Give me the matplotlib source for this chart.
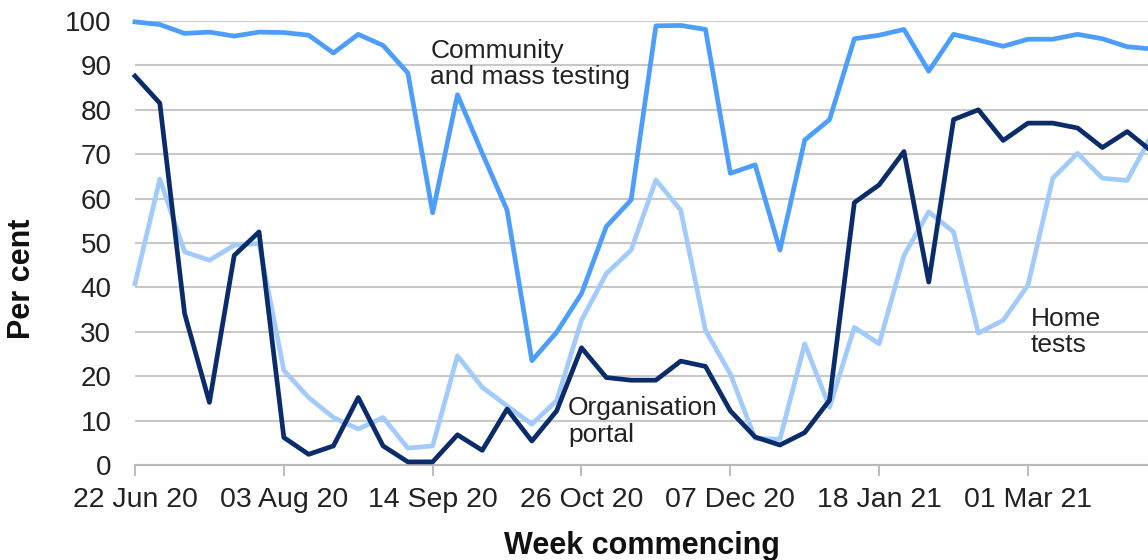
import matplotlib
matplotlib.use("Agg")
import matplotlib.pyplot as plt

plt.rcParams["font.family"] = ["Liberation Sans", "DejaVu Sans"]

# weekly series, week 0 = w/c 22 Jun 20
weeks = list(range(42))
community = [99.8, 99.2, 97.2, 97.5, 96.6, 97.5, 97.4, 96.8, 92.8, 97.0,
             94.5, 88.3, 56.8, 83.4, 70.2, 57.4, 23.5, 29.9, 38.6, 53.7,
             59.7, 98.9, 99.0, 98.1, 65.7, 67.6, 48.4, 73.2, 77.8, 96.0,
             96.8, 98.1, 88.7, 97.0, 95.7, 94.3, 95.9, 95.9, 97.0, 96.0,
             94.2, 93.7]
organisation = [87.6, 81.5, 34.1, 14.1, 47.2, 52.5, 6.2, 2.4, 4.3, 15.2,
                4.3, 0.7, 0.7, 6.8, 3.3, 12.6, 5.4, 12.2, 26.4, 19.7,
                19.1, 19.1, 23.4, 22.2, 12.2, 6.3, 4.5, 7.3, 14.6, 59.1,
                63.1, 70.6, 41.2, 77.8, 80.0, 73.1, 77.0, 77.0, 75.9, 71.5,
                75.1, 70.6]
home = [40.8, 64.4, 48.0, 46.1, 49.5, 49.9, 21.3, 15.2, 10.7, 8.1,
        10.7, 3.8, 4.3, 24.6, 17.5, 13.3, 9.2, 14.5, 32.6, 43.1,
        48.4, 64.2, 57.4, 30.3, 20.5, 6.0, 5.8, 27.3, 13.0, 31.0,
        27.3, 47.2, 57.0, 52.5, 29.7, 32.6, 40.5, 64.6, 70.2, 64.6,
        64.1, 74.4]

tick_weeks = [0, 6, 12, 18, 24, 30, 36]
tick_labels = ["22 Jun 20", "03 Aug 20", "14 Sep 20", "26 Oct 20",
               "07 Dec 20", "18 Jan 21", "01 Mar 21"]

fig = plt.figure(figsize=(11.48, 5.6), dpi=100)
ax = fig.add_axes([135 / 1148, 95 / 560, 1017 / 1148, 444 / 560])

ax.plot(weeks, community, color="#4C9EFA", lw=3.4, clip_on=False, zorder=3)
ax.plot(weeks, home, color="#A2CBFB", lw=3.4, clip_on=False, zorder=3)
ax.plot(weeks, organisation, color="#0A2C6B", lw=3.4, clip_on=False, zorder=4)

ax.set_xlim(0, 41)
ax.set_ylim(0, 100)
ax.set_yticks(range(0, 101, 10))
ax.set_xticks(tick_weeks)
ax.set_xticklabels(tick_labels)
ax.tick_params(axis="both", labelsize=20, colors="#222222")
ax.tick_params(axis="x", labelsize=20.5)
ax.tick_params(axis="y", length=0, pad=17)
ax.tick_params(axis="x", length=8, width=1.2, color="#b0b0b0", pad=8)
ax.yaxis.grid(True, color="#c8c8c8", lw=1.5)
ax.set_axisbelow(True)
for side in ["top", "right", "left"]:
    ax.spines[side].set_visible(False)
ax.spines["bottom"].set_color("#b8b8b8")
ax.spines["bottom"].set_linewidth(1.5)

ax.text(11.9, 90.3, "Community\nand mass testing", fontsize=19, va="center",
        ha="left", linespacing=1.12, color="#222222", zorder=5)
ax.text(17.45, 9.8, "Organisation\nportal", fontsize=19, va="center",
        ha="left", linespacing=1.12, color="#222222", zorder=5)
ax.text(36.1, 30.0, "Home\ntests", fontsize=19, va="center",
        ha="left", linespacing=1.12, color="#222222", zorder=5)

fig.text(22 / 1148, 1 - 279 / 560, "Per cent", rotation=90, fontsize=22,
         fontweight="bold", ha="center", va="center", color="#111111")
fig.text(642 / 1148, 1 - 546 / 560, "Week commencing", fontsize=22,
         fontweight="bold", ha="center", va="center", color="#111111")

fig.savefig("out.png", dpi=100)
